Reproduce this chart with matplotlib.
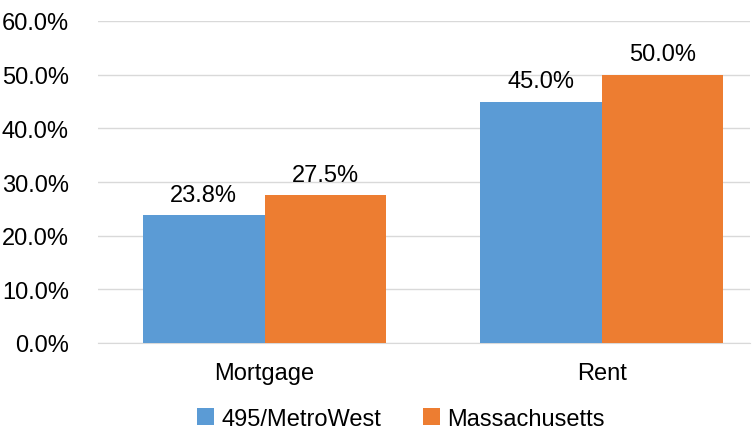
import numpy as np
import matplotlib
matplotlib.use("Agg")
import matplotlib.pyplot as plt
from matplotlib.ticker import PercentFormatter

# === Data ===
categories = ["Mortgage", "Rent"]
metrowest = [23.8, 45.0]
massachusetts = [27.5, 50.0]
series_names = ["495/MetroWest", "Massachusetts"]
colors = ["#5B9BD5", "#ED7D31"]

plt.rcParams["font.family"] = ["Liberation Sans", "DejaVu Sans"]
fs = 17

fig = plt.figure(figsize=(7.56, 4.35), dpi=100)
ax = fig.add_axes([98 / 756, 1 - 344 / 435, (750 - 98) / 756, (344 - 22) / 435])

x = np.arange(len(categories))
w = 0.36
b1 = ax.bar(x - w / 2, metrowest, w, color=colors[0], label=series_names[0], zorder=3)
b2 = ax.bar(x + w / 2, massachusetts, w, color=colors[1], label=series_names[1], zorder=3)

for bars in (b1, b2):
    for rect in bars:
        h = rect.get_height()
        ax.text(rect.get_x() + rect.get_width() / 2, h + 1.8, f"{h:.1f}%",
                ha="center", va="bottom", fontsize=fs, color="#000000")

ax.set_ylim(0, 60)
ax.set_yticks(np.arange(0, 61, 10))
ax.yaxis.set_major_formatter(PercentFormatter(decimals=1))
ax.set_xlim(-0.494, 1.44)
ax.set_xticks(x)
ax.set_xticklabels(categories)

ax.grid(axis="y", color="#D9D9D9", linewidth=1, zorder=0)
for s in ["top", "right", "left"]:
    ax.spines[s].set_visible(False)
ax.spines["bottom"].set_color("#D9D9D9")
ax.tick_params(axis="both", length=0, colors="#000000", labelsize=fs)
ax.tick_params(axis="y", pad=21)
ax.tick_params(axis="x", pad=14)

fig.legend(loc="center", bbox_to_anchor=(401 / 756, 1 - 420 / 435), ncol=2, frameon=False,
           handlelength=0.7, handleheight=0.7, handletextpad=0.3, columnspacing=1.8,
           fontsize=fs)

fig.savefig("out.png", dpi=100)
